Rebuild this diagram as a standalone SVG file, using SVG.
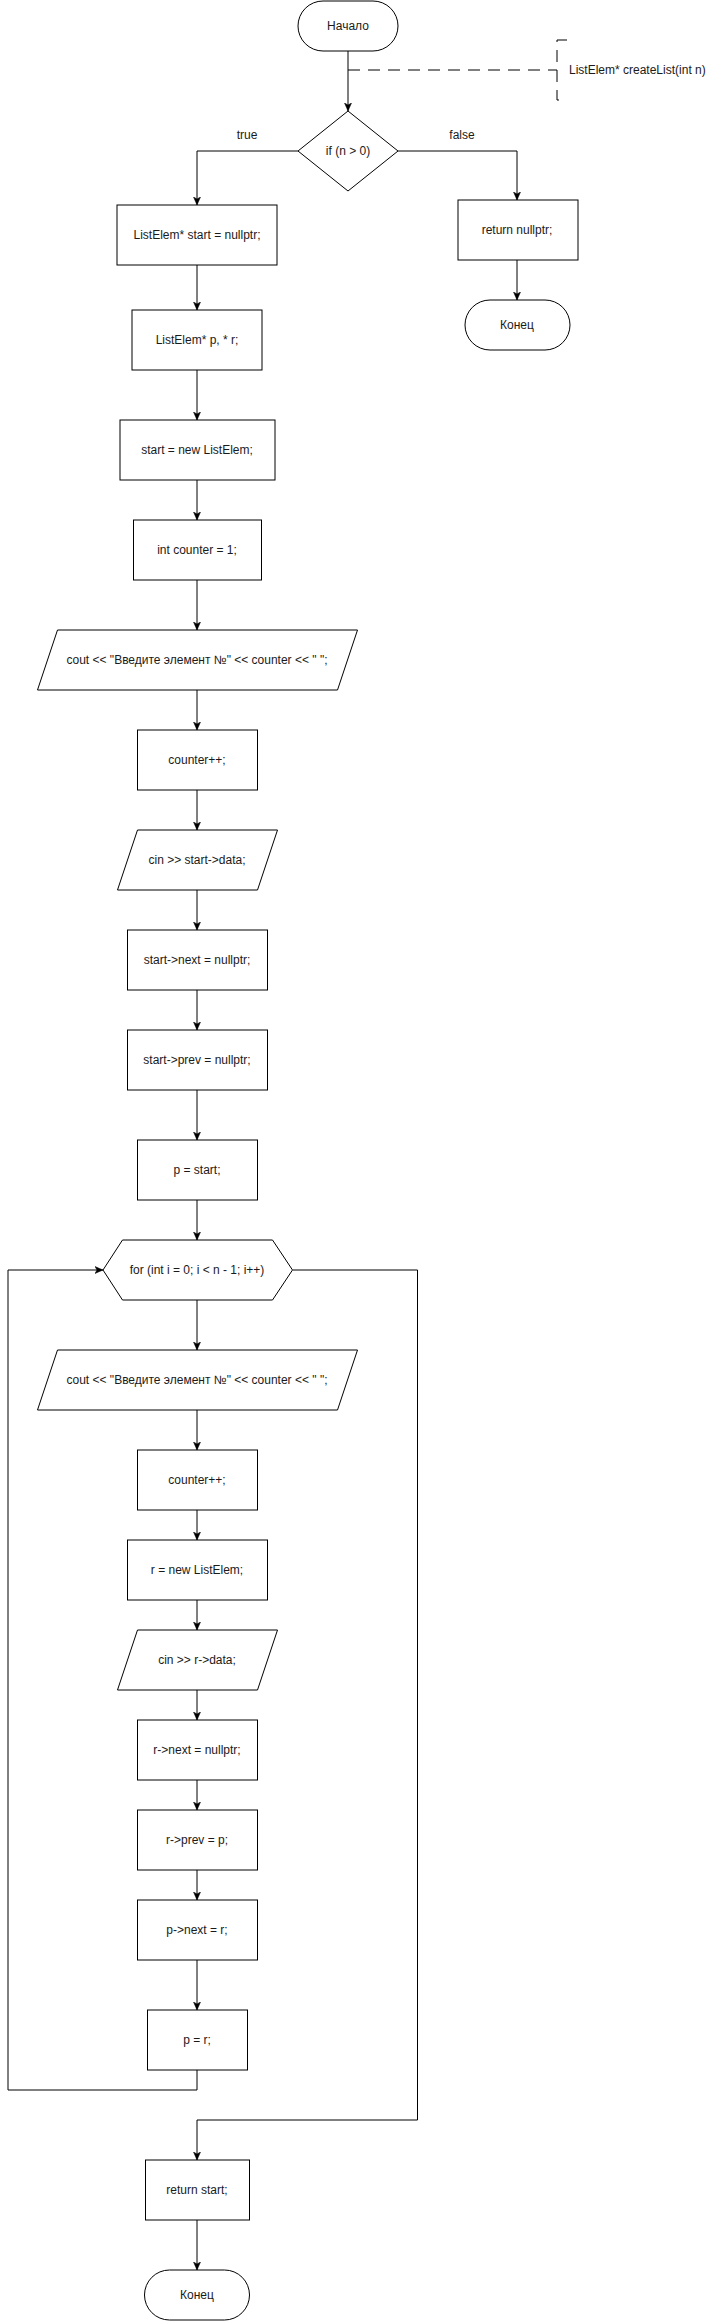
<svg xmlns="http://www.w3.org/2000/svg" width="707" height="2321" viewBox="0 0 707 2321">
<style>
.s{fill:#fff;stroke:#000;stroke-width:1}
.t{font-family:"Liberation Sans",Arial,sans-serif;font-size:12px;fill:#1a1a1a;text-anchor:middle}
.c{fill:none;stroke:#000;stroke-width:1}
.d{fill:none;stroke:#000;stroke-width:1;stroke-dasharray:12 8}
</style>
<defs>
<marker id="a" markerWidth="10" markerHeight="10" refX="8" refY="4" orient="auto" markerUnits="userSpaceOnUse">
<path d="M0,0.5 L8,4 L0,7.5 L2,4 Z" fill="#000" stroke="#000" stroke-width="0.5"/>
</marker>
</defs>
<rect width="707" height="2321" fill="#fff"/>
<g id="connectors">
<path class="c" d="M348,51 V111" marker-end="url(#a)"/>
<path class="d" d="M348,70 H557"/>
<path class="d" d="M567,40 H557 V100 H567"/>
<path class="c" d="M298,151 H197 V205" marker-end="url(#a)"/>
<path class="c" d="M398,151 H517 V200" marker-end="url(#a)"/>
<path class="c" d="M517,260 V300" marker-end="url(#a)"/>
<path class="c" d="M197,265 V310" marker-end="url(#a)"/>
<path class="c" d="M197,370 V420" marker-end="url(#a)"/>
<path class="c" d="M197,480 V520" marker-end="url(#a)"/>
<path class="c" d="M197,580 V630" marker-end="url(#a)"/>
<path class="c" d="M197,690 V730" marker-end="url(#a)"/>
<path class="c" d="M197,790 V830" marker-end="url(#a)"/>
<path class="c" d="M197,890 V930" marker-end="url(#a)"/>
<path class="c" d="M197,990 V1030" marker-end="url(#a)"/>
<path class="c" d="M197,1090 V1140" marker-end="url(#a)"/>
<path class="c" d="M197,1200 V1240" marker-end="url(#a)"/>
<path class="c" d="M197,1300 V1350" marker-end="url(#a)"/>
<path class="c" d="M197,1410 V1450" marker-end="url(#a)"/>
<path class="c" d="M197,1510 V1540" marker-end="url(#a)"/>
<path class="c" d="M197,1600 V1630" marker-end="url(#a)"/>
<path class="c" d="M197,1690 V1720" marker-end="url(#a)"/>
<path class="c" d="M197,1780 V1810" marker-end="url(#a)"/>
<path class="c" d="M197,1870 V1900" marker-end="url(#a)"/>
<path class="c" d="M197,1960 V2010" marker-end="url(#a)"/>
<path class="c" d="M197,2070 V2090 H8 V1270 H103" marker-end="url(#a)"/>
<path class="c" d="M293,1270 H417.5 V2120 H197 V2160" marker-end="url(#a)"/>
<path class="c" d="M197,2220 V2270" marker-end="url(#a)"/>
</g>
<g id="start"><rect class="s" x="298" y="1" width="100" height="50" rx="25" ry="25"/><text class="t" x="348" y="30">Начало</text></g>
<g id="comment"><text class="t" x="569" y="74" style="text-anchor:start">ListElem* createList(int n)</text></g>
<g id="if"><path class="s" d="M348,111 L398,151 L348,191 L298,151 Z"/><text class="t" x="348" y="155">if (n &gt; 0)</text></g>
<g id="lbl-true"><text class="t" x="247" y="139">true</text></g>
<g id="lbl-false"><text class="t" x="462" y="139">false</text></g>
<g id="n1"><rect class="s" x="117" y="205" width="160" height="60"/><text class="t" x="197" y="239">ListElem* start = nullptr;</text></g>
<g id="ret-null"><rect class="s" x="458" y="200" width="120" height="60"/><text class="t" x="517" y="234">return nullptr;</text></g>
<g id="end1"><rect class="s" x="465" y="300" width="105" height="50" rx="25" ry="25"/><text class="t" x="517" y="329">Конец</text></g>
<g id="n2"><rect class="s" x="132" y="310" width="130" height="60"/><text class="t" x="197" y="344">ListElem* p, * r;</text></g>
<g id="n3"><rect class="s" x="120" y="420" width="155" height="60"/><text class="t" x="197" y="454">start = new ListElem;</text></g>
<g id="n4"><rect class="s" x="133.5" y="520" width="128" height="60"/><text class="t" x="197" y="554">int counter = 1;</text></g>
<g id="n5"><path class="s" d="M57.5,630 H357.5 L337.5,690 H37.5 Z"/><text class="t" x="197" y="664">cout &lt;&lt; "Введите элемент №" &lt;&lt; counter &lt;&lt; " ";</text></g>
<g id="n6"><rect class="s" x="137.5" y="730" width="120" height="60"/><text class="t" x="197" y="764">counter++;</text></g>
<g id="n7"><path class="s" d="M137.5,830 H277.5 L257.5,890 H117.5 Z"/><text class="t" x="197" y="864">cin &gt;&gt; start-&gt;data;</text></g>
<g id="n8"><rect class="s" x="127.5" y="930" width="140" height="60"/><text class="t" x="197" y="964">start-&gt;next = nullptr;</text></g>
<g id="n9"><rect class="s" x="127.5" y="1030" width="140" height="60"/><text class="t" x="197" y="1064">start-&gt;prev = nullptr;</text></g>
<g id="n10"><rect class="s" x="137.5" y="1140" width="120" height="60"/><text class="t" x="197" y="1174">p = start;</text></g>
<g id="for"><path class="s" d="M103,1270 L122.5,1240 H272.5 L292.5,1270 L272.5,1300 H122.5 Z"/><text class="t" x="197" y="1274">for (int i = 0; i &lt; n - 1; i++)</text></g>
<g id="n11"><path class="s" d="M57.5,1350 H357.5 L337.5,1410 H37.5 Z"/><text class="t" x="197" y="1384">cout &lt;&lt; "Введите элемент №" &lt;&lt; counter &lt;&lt; " ";</text></g>
<g id="n12"><rect class="s" x="137.5" y="1450" width="120" height="60"/><text class="t" x="197" y="1484">counter++;</text></g>
<g id="n13"><rect class="s" x="127.5" y="1540" width="140" height="60"/><text class="t" x="197" y="1574">r = new ListElem;</text></g>
<g id="n14"><path class="s" d="M137.5,1630 H277.5 L257.5,1690 H117.5 Z"/><text class="t" x="197" y="1664">cin &gt;&gt; r-&gt;data;</text></g>
<g id="n15"><rect class="s" x="137.5" y="1720" width="120" height="60"/><text class="t" x="197" y="1754">r-&gt;next = nullptr;</text></g>
<g id="n16"><rect class="s" x="137.5" y="1810" width="120" height="60"/><text class="t" x="197" y="1844">r-&gt;prev = p;</text></g>
<g id="n17"><rect class="s" x="137.5" y="1900" width="120" height="60"/><text class="t" x="197" y="1934">p-&gt;next = r;</text></g>
<g id="n18"><rect class="s" x="147.5" y="2010" width="100" height="60"/><text class="t" x="197" y="2044">p = r;</text></g>
<g id="ret-start"><rect class="s" x="145.5" y="2160" width="104" height="60"/><text class="t" x="197" y="2194">return start;</text></g>
<g id="end2"><rect class="s" x="144.5" y="2270" width="105" height="50" rx="25" ry="25"/><text class="t" x="197" y="2299">Конец</text></g>
</svg>
